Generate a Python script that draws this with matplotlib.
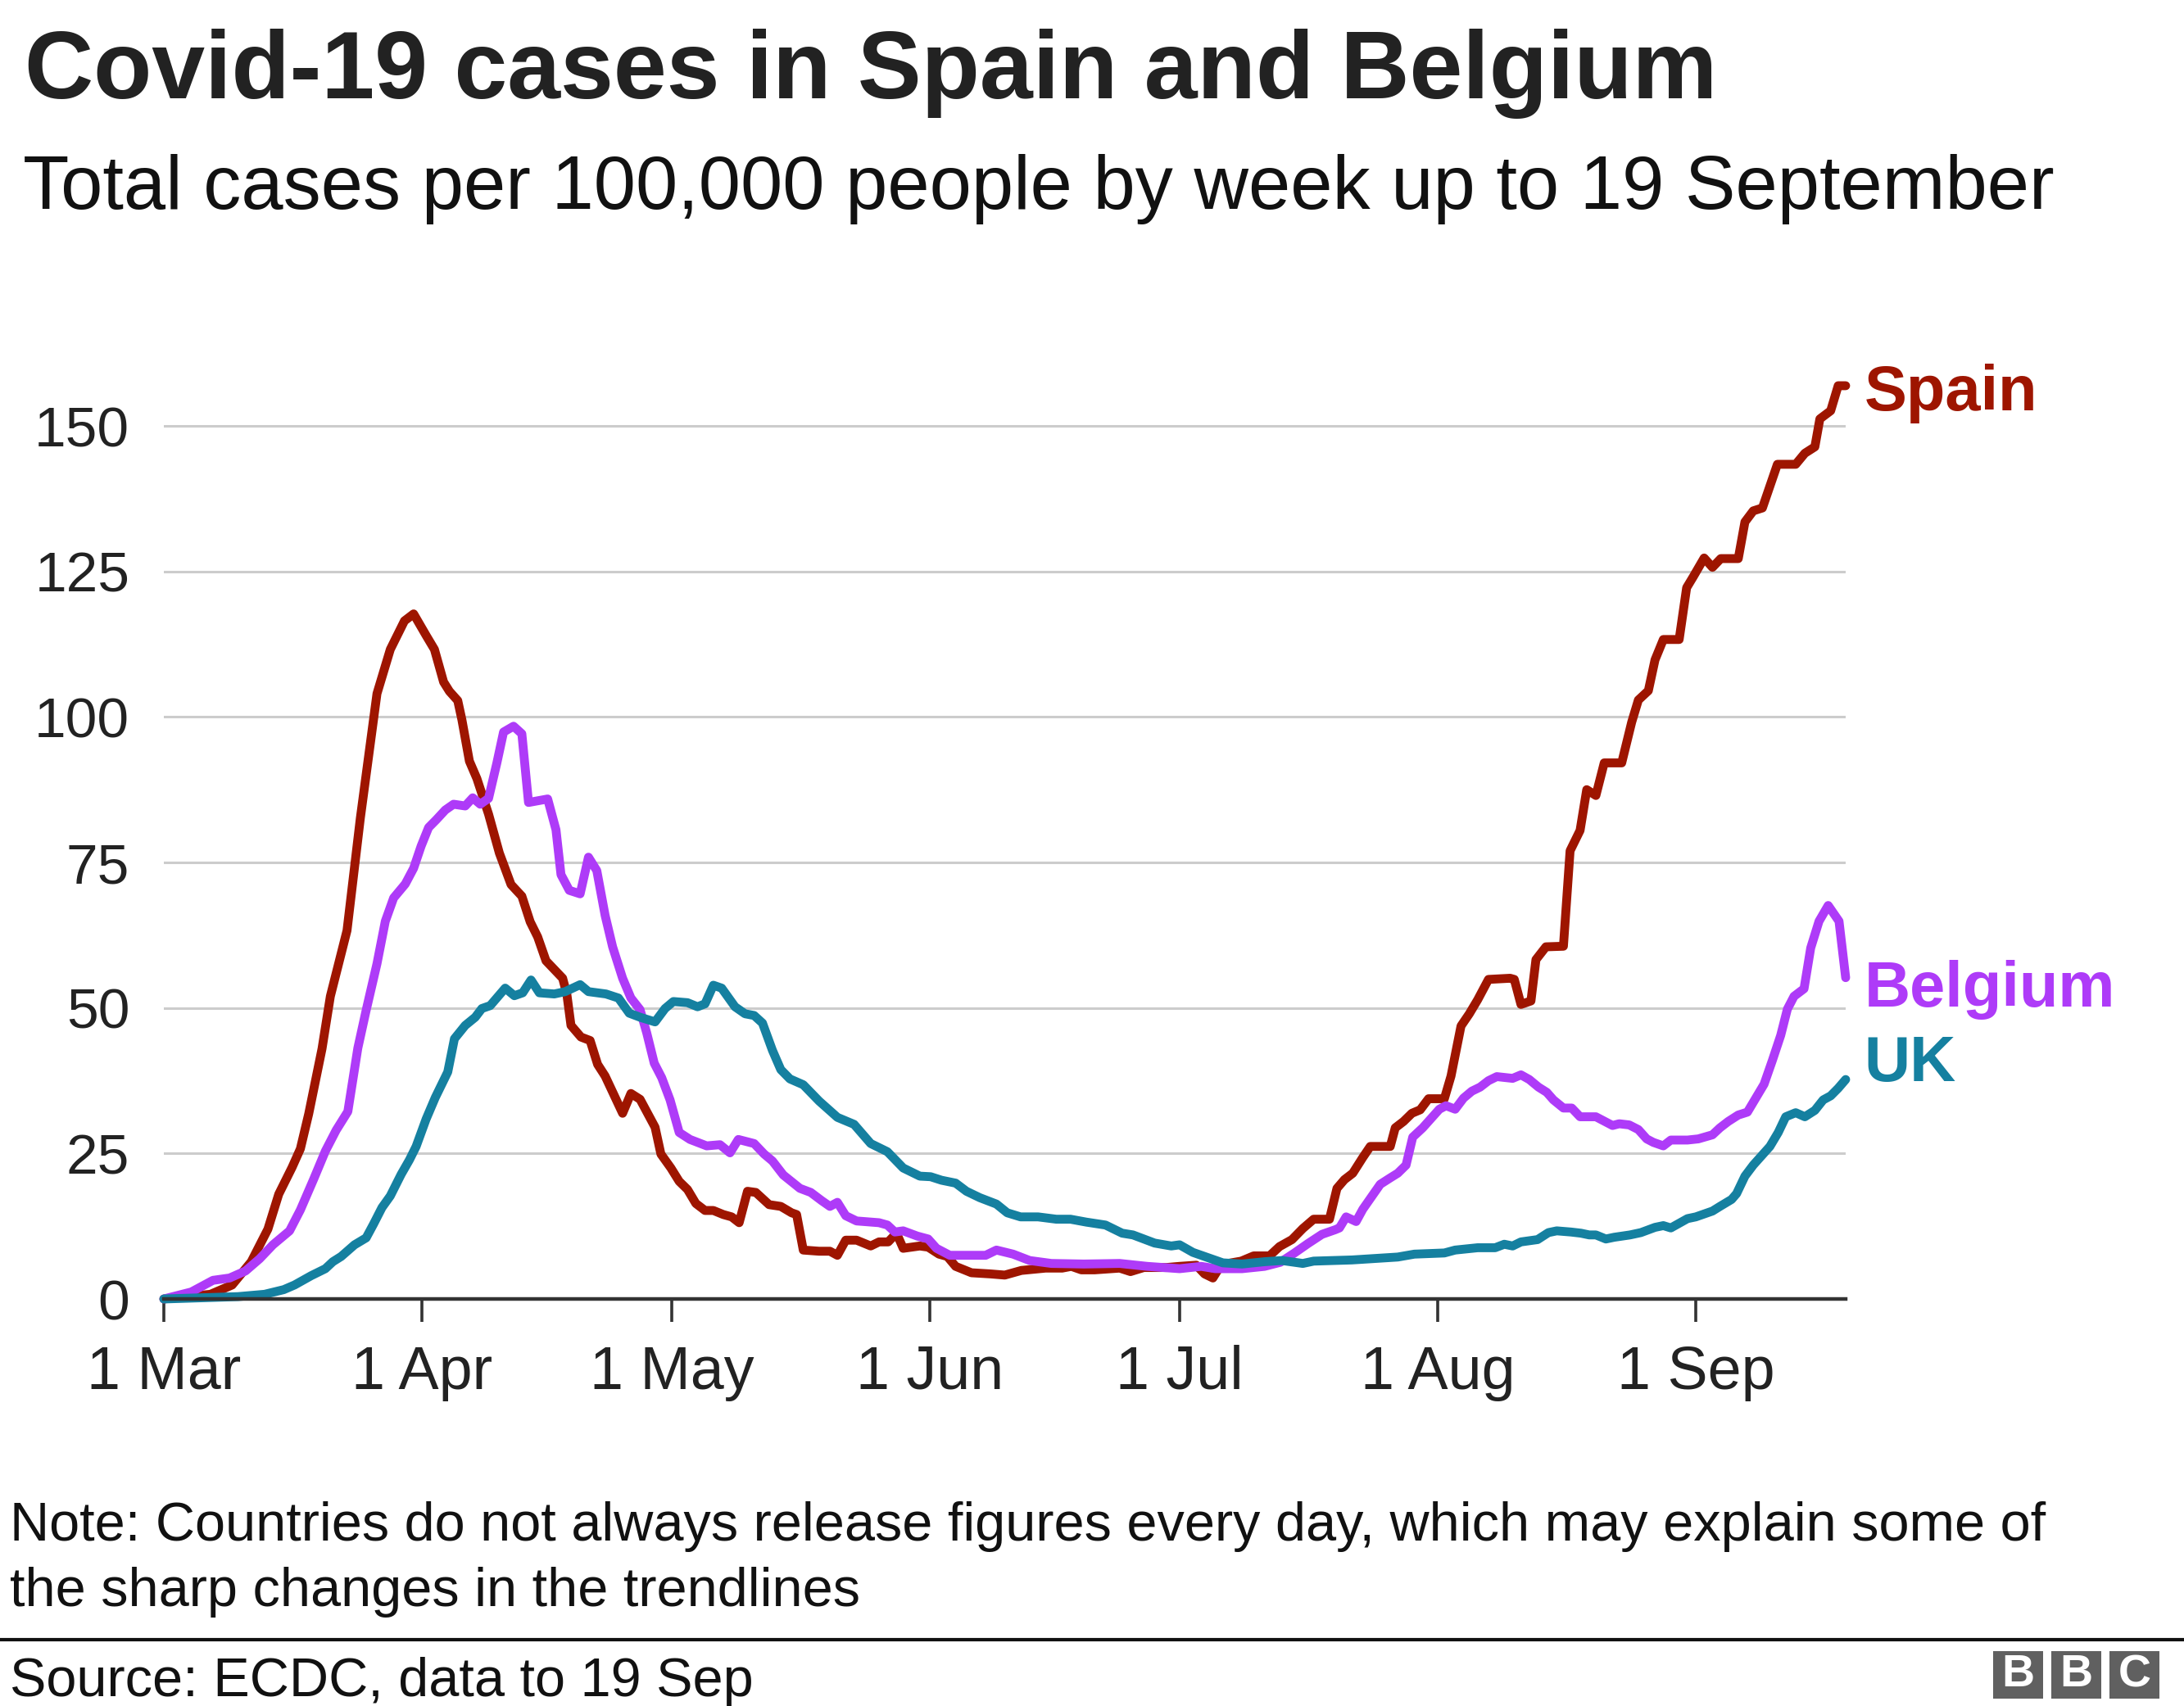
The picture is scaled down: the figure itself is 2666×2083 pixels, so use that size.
import matplotlib
matplotlib.use("Agg")
import matplotlib.pyplot as plt
from matplotlib.patches import Rectangle

# ---------------- data (days since 1 Mar, cases per 100k) ----------------
spain_days = [0, 5.6, 8.2, 10.5, 12.5, 13.8, 15.4, 16.4, 17.4, 19.0, 20.0, 22.0, 23.6, 25.6, 27.2, 28.9,
              30.0, 31.5, 32.5, 33.6, 34.3, 35.3, 35.8, 36.7, 37.6, 39.0, 40.3, 41.7, 43.0, 44.0, 44.9,
              45.9, 47.9, 48.4, 48.9, 50.1, 51.2, 52.1, 53.0, 55.1, 56.1, 57.2, 59.0, 59.7, 60.9, 61.9,
              62.9, 63.9, 65.0, 66.0, 67.2, 68.2, 69.1, 70.1, 71.1, 72.7, 74.1, 75.4, 76.0, 76.8, 78.7,
              80.0, 80.9, 81.9, 83.2, 84.9, 85.9, 87.0, 88.0, 88.8, 89.8, 90.8, 91.8, 93.1, 94.1, 95.1,
              97.0, 99.3, 101.0, 103.0, 105.9, 107.9, 109.0, 110.2, 111.8, 114.8, 116.1, 117.7, 120.4,
              122.0, 124.0, 125.0, 126.0, 127.0, 129.4, 130.9, 132.8, 134.0, 135.5, 136.8, 138.1, 140.0,
              140.9, 141.8, 142.8, 144.0, 144.9, 147.3, 147.9, 148.9, 149.9, 150.9, 151.9, 153.8, 154.6,
              155.8, 156.8, 157.8, 159.1, 161.7, 162.2, 163.0, 164.2, 164.8, 166.0, 168.1, 168.9, 170.1,
              170.9, 172.0, 173.0, 175.1, 176.3, 177.1, 178.3, 179.1, 180.1, 182.0, 182.9, 183.7, 185.0,
              186.0, 187.0, 189.1, 189.9, 190.9, 192.0, 193.8, 196.0, 197.1, 198.3, 198.9, 200.2, 201.1,
              202.0]
spain_vals = [0, 0.8, 2.4, 6.4, 12, 18, 22.6, 25.8, 31.8, 43, 52, 63.3, 82.6, 104, 111.6, 116.5,
              117.7, 114, 111.6, 106, 104.4, 102.8, 99.5, 92.4, 89.4, 83.3, 76.6, 71.2, 69.2, 64.8, 62.2,
              58.1, 55.1, 52.4, 47.0, 45.0, 44.4, 40.3, 38.3, 31.9, 35.3, 34.3, 29.5, 24.9, 22.5, 20.2,
              18.8, 16.4, 15.2, 15.2, 14.5, 14.1, 13.1, 18.5, 18.3, 16.2, 15.9, 14.8, 14.5, 8.4, 8.2,
              8.2, 7.5, 10.1, 10.1, 9.1, 9.8, 9.8, 11.3, 8.7, 8.9, 9.1, 8.9, 7.7, 7.3, 5.6,
              4.5, 4.3, 4.1, 4.9, 5.3, 5.3, 5.6, 5.0, 5.0, 5.3, 4.7, 5.4, 5.4,
              5.6, 5.8, 4.3, 3.6, 5.9, 6.5, 7.4, 7.4, 9.0, 10.2, 12.1, 13.7, 13.7,
              19.0, 20.5, 21.6, 24.3, 26.2, 26.2, 29.4, 30.5, 31.9, 32.5, 34.4, 34.4, 38.3,
              46.9, 49.0, 51.4, 54.9, 55.1, 54.9, 50.6, 51.2, 58.3, 60.5, 60.6, 77.0, 80.5,
              87.5, 86.5, 92.1, 92.1, 99.1, 102.9, 104.5, 109.8, 113.3, 113.3, 122.2, 124.1, 127.3,
              125.7, 127.2, 127.2, 133.5, 135.4, 135.9, 143.4, 143.4, 145.3, 146.4, 151.2, 152.6, 156.9,
              156.9]

belgium_days = [0, 3.3, 5.9, 7.9, 9.8, 11.5, 13.1, 15.1, 16.4, 18.0, 19.4, 20.7, 22.1, 23.3, 24.3, 25.6,
                26.6, 27.6, 29.0, 30.0, 30.9, 31.8, 32.7, 33.8, 34.8, 36.2, 37.1, 38.0, 39.0, 40.0, 40.8,
                42.0, 43.0, 43.8, 46.1, 47.1, 47.7, 48.7, 50.0, 51.0, 52.0, 53.0, 53.9, 55.1, 56.1, 57.2,
                58.0, 58.9, 59.8, 60.8, 61.9, 63.2, 65.2, 66.8, 68.0, 69.0, 70.9, 72.1, 73.1, 74.4, 76.4,
                77.7, 79.0, 80.0, 80.9, 81.9, 83.2, 85.9, 86.9, 87.8, 88.8, 90.5, 91.8, 92.8, 94.4, 98.7,
                100.0, 102.0, 104.0, 106.6, 110.5, 114.8, 118.1, 122.0, 124.6, 126.3, 129.5, 132.2, 134.1,
                135.8, 137.4, 139.1, 140.7, 141.2, 142.0, 143.2, 144.0, 146.1, 147.3, 148.2, 149.2, 150.0,
                151.2, 153.2, 154.0, 155.1, 156.1, 157.1, 158.1, 159.1, 160.1, 162.0, 163.0, 164.0, 165.1,
                166.1, 166.9, 168.1, 169.1, 170.1, 172.0, 174.0, 174.8, 176.0, 177.1, 178.1, 178.9, 180.1,
                181.0, 183.0, 184.3, 186.0, 186.9, 187.9, 189.1, 190.2, 191.2, 192.2, 193.2, 194.2, 195.0,
                195.8, 197.0, 197.8, 198.8, 199.9, 201.2, 202.0]
belgium_vals = [0, 1.2, 3.2, 3.6, 4.8, 6.9, 9.3, 11.7, 15.3, 20.6, 25.4, 29.0, 32.2, 43.1, 49.6, 57.6,
                64.9, 68.9, 71.3, 74.0, 77.8, 81.0, 82.3, 84.0, 85.0, 84.7, 86.1, 85.0, 86.0, 92.1, 97.4,
                98.4, 97.1, 85.3, 85.9, 80.6, 72.9, 70.2, 69.6, 75.9, 73.6, 65.9, 60.5, 55.1, 51.7, 49.7,
                45.7, 40.5, 38.0, 34.2, 28.6, 27.4, 26.3, 26.5, 25.1, 27.4, 26.7, 24.9, 23.7, 21.3, 19.0,
                18.3, 16.9, 15.9, 16.6, 14.3, 13.4, 13.1, 12.7, 11.5, 11.7, 10.8, 10.3, 8.7, 7.5, 7.5,
                8.4, 7.7, 6.6, 6.1, 6.0, 6.1, 5.6, 5.2, 5.6, 5.2, 5.2, 5.6, 6.3,
                7.9, 9.5, 11.1, 11.9, 12.2, 14.1, 13.3, 15.4, 19.7, 20.8, 21.6, 23.0, 27.8,
                29.4, 32.6, 33.2, 32.6, 34.5, 35.7, 36.4, 37.5, 38.2, 37.9, 38.5, 37.7, 36.4,
                35.5, 34.2, 32.8, 32.8, 31.3, 31.3, 29.8, 30.1, 29.9, 29.1, 27.5, 26.9, 26.3,
                27.3, 27.3, 27.5, 28.2, 29.4, 30.5, 31.6, 32.1, 34.5, 36.9, 41.0, 45.3, 49.8,
                52.0, 53.3, 60.3, 64.9, 67.6, 64.9, 55.2]

uk_days = [0, 8.9, 12.1, 14.4, 15.7, 17.7, 19.4, 20.3, 21.3, 22.9, 24.3, 25.2, 26.2, 27.2, 28.5, 29.5,
           30.3, 31.5, 32.6, 34.1, 34.9, 36.2, 37.4, 38.2, 39.2, 41.0, 42.1, 43.1, 44.1, 45.1, 46.9,
           48.2, 50.0, 51.0, 53.1, 54.6, 55.9, 57.2, 59.0, 60.2, 61.2, 62.9, 64.1, 65.0, 66.0, 67.0,
           68.6, 69.8, 70.9, 71.9, 73.1, 74.1, 75.2, 76.8, 78.7, 80.9, 82.9, 84.9, 86.9, 88.8, 90.8,
           92.1, 93.4, 95.1, 96.4, 98.0, 100.0, 101.3, 102.9, 105.0, 107.2, 108.9, 110.8, 113.1, 115.1,
           116.4, 119.0, 121.0, 122.0, 123.6, 125.6, 127.2, 129.5, 132.2, 134.3, 136.8, 138.1, 142.7,
           145.9, 148.2, 150.2, 153.8, 155.1, 157.8, 159.9, 161.0, 162.0, 163.0, 165.0, 166.3, 167.3,
           169.0, 170.2, 171.2, 172.0, 173.2, 174.2, 176.1, 177.4, 179.1, 180.1, 181.0, 183.0, 184.0,
           185.0, 186.0, 186.9, 188.3, 188.9, 189.9, 190.9, 191.9, 192.9, 193.9, 194.8, 196.0, 197.1,
           198.3, 199.3, 200.2, 201.1, 202.0]
uk_vals = [0, 0.4, 0.8, 1.6, 2.4, 4.0, 5.2, 6.4, 7.3, 9.3, 10.5, 12.9, 15.7, 17.7, 21.4, 23.9,
           26.2, 30.9, 34.6, 39.0, 44.7, 47.0, 48.4, 49.9, 50.4, 53.4, 52.1, 52.6, 54.8, 52.6, 52.4,
           52.8, 54.0, 52.8, 52.4, 51.7, 49.1, 48.4, 47.6, 49.9, 51.1, 50.9, 50.2, 50.7, 53.9, 53.4,
           50.2, 49.0, 48.7, 47.4, 42.7, 39.4, 37.8, 36.8, 34.0, 31.2, 30.0, 26.7, 25.3, 22.5, 21.1,
           21.0, 20.4, 19.9, 18.5, 17.4, 16.3, 14.8, 14.1, 14.1, 13.7, 13.7, 13.2, 12.7, 11.3,
           11.0, 9.6, 9.1, 9.3, 8.0, 7.0, 6.2, 6.0, 6.4, 6.6, 6.1, 6.5, 6.7,
           7.0, 7.2, 7.7, 7.9, 8.4, 8.8, 8.8, 9.4, 9.1, 9.8, 10.2, 11.4, 11.7,
           11.5, 11.3, 11.0, 11.0, 10.3, 10.6, 11.0, 11.4, 12.3, 12.6, 12.2, 13.8, 14.1,
           14.6, 15.1, 15.9, 17.1, 18.1, 21.1, 23.0, 24.6, 26.2, 28.6, 31.3, 32.0, 31.3,
           32.4, 34.2, 34.9, 36.2, 37.7]

month_ticks = [0, 31, 61, 92, 122, 153, 184]
month_labels = ["1 Mar", "1 Apr", "1 May", "1 Jun", "1 Jul", "1 Aug", "1 Sep"]
y_ticks = [0, 25, 50, 75, 100, 125, 150]

series_names = ["Spain", "Belgium", "UK"]
series_colors = ["#9E1500", "#AE3BF8", "#1580A0"]

# ---------------- layout ----------------
W, H = 2666, 2083
DPI = 100
plt.rcParams['font.family'] = ['Liberation Sans', 'DejaVu Sans']
fig = plt.figure(figsize=(W / DPI, H / DPI), dpi=DPI)
fig.patch.set_facecolor("white")

def fx(x):
    return x / W

def fy(y):
    return 1 - y / H

ax_left, ax_right = 200, 2253
ax_bottom, ax_top = 1586, 1586 - 160 * (1066 / 150)
ax = fig.add_axes([fx(ax_left), fy(ax_bottom), (ax_right - ax_left) / W, (ax_bottom - ax_top) / H])
ax.set_xlim(0, 202)
ax.set_ylim(0, 160)

for s in ["top", "right", "left"]:
    ax.spines[s].set_visible(False)
ax.spines["bottom"].set_color("#333333")
ax.spines["bottom"].set_linewidth(3.2)
ax.spines["bottom"].set_zorder(5)

for yv in y_ticks[1:]:
    ax.axhline(yv, color="#cccccc", lw=2.2, zorder=0)

ax.set_yticks(y_ticks)
ax.set_yticklabels([str(v) for v in y_ticks])
ax.tick_params(axis="y", length=0, pad=30, labelsize=50, labelcolor="#222222")
ax.set_xticks(month_ticks)
ax.set_xticklabels(month_labels)
ax.tick_params(axis="x", length=20, width=2.6, color="#333333", pad=20,
               labelsize=53, labelcolor="#222222", direction="out")

for d, v, c in [(spain_days, spain_vals, series_colors[0]),
                (belgium_days, belgium_vals, series_colors[1]),
                (uk_days, uk_vals, series_colors[2])]:
    ax.plot(d, v, color=c, lw=7.8, solid_joinstyle="round", solid_capstyle="round",
            zorder=3, clip_on=False)

label_y = [155.5, 53.1, 40.3]
for name, c, ly in zip(series_names, series_colors, label_y):
    ax.text(204.2, ly, name, color=c, fontsize=56, fontweight="bold",
            va="center", ha="left", clip_on=False)

# titles
fig.text(fx(30), fy(120), "Covid-19 cases in Spain and Belgium", fontsize=84,
         fontweight="bold", color="#222222", ha="left", va="baseline")
fig.text(fx(28), fy(255), "Total cases per 100,000 people by week up to 19 September",
         fontsize=66.3, color="#111111", ha="left", va="baseline")

# note
fig.text(fx(12), fy(1881), "Note: Countries do not always release figures every day, which may explain some of",
         fontsize=48, color="#111111", ha="left", va="baseline")
fig.text(fx(12), fy(1961), "the sharp changes in the trendlines",
         fontsize=48, color="#111111", ha="left", va="baseline")

# footer rule
fig.add_artist(plt.Line2D([0, 1], [fy(2002), fy(2002)], color="#111111", lw=3))
fig.text(fx(12), fy(2071), "Source: ECDC, data to 19 Sep", fontsize=48, color="#111111",
         ha="left", va="baseline")

# BBC logo
for i, letter in enumerate(["B", "B", "C"]):
    x0 = 2433 + i * 71
    fig.add_artist(Rectangle((fx(x0), fy(2074)), 61 / W, 58 / H, transform=fig.transFigure,
                             facecolor="#606060", edgecolor="none"))
    fig.text(fx(x0 + 30.5), fy(2045), letter, fontsize=40, fontweight="bold", color="white",
             ha="center", va="center")

fig.savefig("out.png", dpi=DPI, facecolor="white")
